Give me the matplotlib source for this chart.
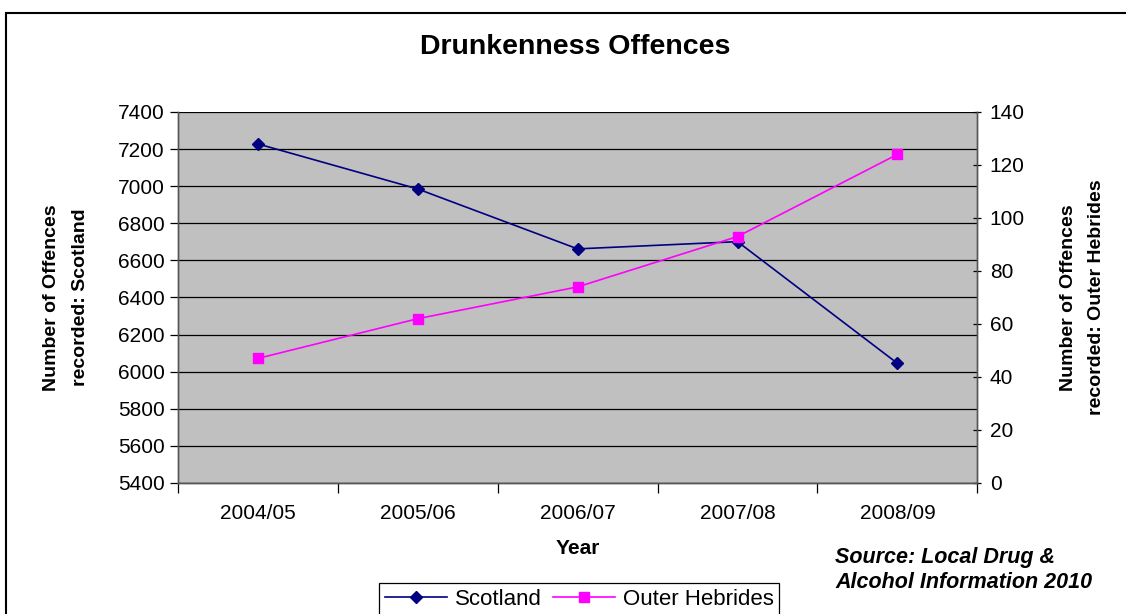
import matplotlib
matplotlib.use("Agg")
import matplotlib.pyplot as plt
from matplotlib.patches import Rectangle
from matplotlib.ticker import FixedLocator, MultipleLocator

# 数据
years = ["2004/05", "2005/06", "2006/07", "2007/08", "2008/09"]
scotland = [7228, 6985, 6662, 6701, 6045]
outer_hebrides = [47, 62, 74, 93, 124]

plt.rcParams["font.family"] = ["Liberation Sans", "DejaVu Sans"]

fig = plt.figure(figsize=(11.26, 6.14), dpi=100)
ax = fig.add_axes([0.158, 0.2134, 0.710, 0.6042])
ax2 = ax.twinx()

x = list(range(len(years)))

ax.set_facecolor("#C0C0C0")
ax.plot(x, scotland, color="#000080", lw=1.2, marker="D", ms=6.5,
        mfc="#000080", mec="#000080", label="Scotland")
ax2.plot(x, outer_hebrides, color="#FF00FF", lw=1.2, marker="s", ms=7,
         mfc="#FF00FF", mec="#FF00FF", label="Outer Hebrides")

# 左轴
ax.set_ylim(5400, 7400)
ax.yaxis.set_major_locator(MultipleLocator(200))
ax.grid(axis="y", color="black", lw=0.9)
ax.set_axisbelow(True)
ax.tick_params(axis="y", labelsize=15, length=6, direction="out", width=0.9)

# 右轴
ax2.set_ylim(0, 140)
ax2.yaxis.set_major_locator(MultipleLocator(20))
ax2.tick_params(axis="y", labelsize=15, length=6, direction="inout", width=0.9, pad=6)

# x轴: 刻度在分类之间
ax.set_xlim(-0.5, len(years) - 0.5)
ax.xaxis.set_major_locator(FixedLocator(x))
ax.set_xticklabels(years)
ax.xaxis.set_minor_locator(FixedLocator([i - 0.5 for i in range(len(years) + 1)]))
ax.tick_params(axis="x", which="major", length=0, labelsize=15, pad=15)
ax.tick_params(axis="x", which="minor", length=7, width=0.9)

for a in (ax, ax2):
    for s in a.spines.values():
        s.set_color("#555555")
        s.set_linewidth(1.0)
    a.spines["top"].set_visible(False)

ax.set_xlabel("Year", fontsize=15, fontweight="bold", labelpad=12)
ax.set_ylabel("Number of Offences\nrecorded: Scotland", fontsize=14,
              fontweight="bold", labelpad=21, linespacing=1.9)
ax2.set_ylabel("Number of Offences\nrecorded: Outer Hebrides", fontsize=14,
               fontweight="bold", rotation=90, labelpad=25, linespacing=1.9)

fig.text(575 / 1126, 1 - 47 / 614, "Drunkenness Offences", ha="center", va="center",
         fontsize=20.5, fontweight="bold")

fig.text(835 / 1126, 1 - 570 / 614, "Source: Local Drug &\nAlcohol Information 2010",
         ha="left", va="center", fontsize=15.5, fontweight="bold", style="italic",
         linespacing=1.3)

handles = ax.get_lines()[:1] + ax2.get_lines()[:1]
leg = fig.legend(handles, [h.get_label() for h in handles], loc="upper center",
                 bbox_to_anchor=(579 / 1126, 1 - 583 / 614), ncol=2, fontsize=16,
                 frameon=True, fancybox=False, edgecolor="black", framealpha=1,
                 handlelength=2.8, columnspacing=0.5, handletextpad=0.35,
                 borderpad=0.25, borderaxespad=0)
leg.get_frame().set_linewidth(0.9)

# 外框
fig.patches.append(Rectangle((6 / 1126, -0.1), 1.5, 1 - 13 / 614 + 0.1,
                             transform=fig.transFigure, fill=False,
                             edgecolor="black", lw=1.5))

fig.savefig("out.png", dpi=100)
